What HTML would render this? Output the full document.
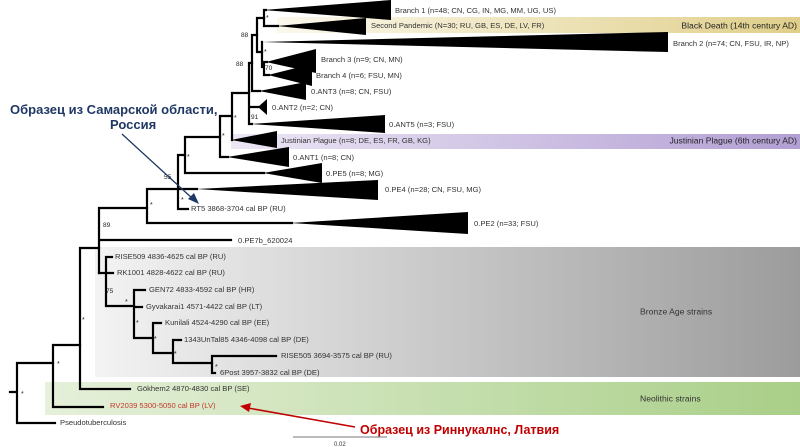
<!DOCTYPE html>
<html><head><meta charset="utf-8"><style>
html,body{margin:0;padding:0;background:#fff;}
svg{display:block;font-family:"Liberation Sans",sans-serif;}
.t{font-size:7.6px;fill:#333;dominant-baseline:middle;}
.s{font-size:6px;fill:#333;}
</style></head><body>
<svg width="800" height="447" viewBox="0 0 800 447" xmlns="http://www.w3.org/2000/svg">
<defs>
<linearGradient id="gBD" x1="0" x2="1"><stop offset="0" stop-color="#fbf8ec"/><stop offset="1" stop-color="#e0cf8a"/></linearGradient>
<linearGradient id="gJ" x1="0" x2="1"><stop offset="0" stop-color="#ece6f5"/><stop offset="1" stop-color="#b29fd3"/></linearGradient>
<linearGradient id="gB" x1="0" x2="1"><stop offset="0" stop-color="#f3f3f3"/><stop offset="1" stop-color="#9c9c9c"/></linearGradient>
<linearGradient id="gN" x1="0" x2="1"><stop offset="0" stop-color="#e6f0da"/><stop offset="1" stop-color="#a9cf88"/></linearGradient>
</defs>
<rect x="277" y="17" width="523" height="16" fill="url(#gBD)"/>
<rect x="231" y="134" width="569" height="15" fill="url(#gJ)"/>
<rect x="95" y="247" width="705" height="130" fill="url(#gB)"/>
<rect x="45" y="382" width="755" height="33" fill="url(#gN)"/>

<g fill="#000">
<polygon points="263,10 391,0 391,20"/>
<polygon points="277,26 366,18 366,35"/>
<polygon points="261,42 668,32 668,52"/>
<polygon points="266,62 316,49 316,73"/>
<polygon points="268,75 312,64 312,86"/>
<polygon points="259,91 306,82 306,100"/>
<polygon points="258,107 267,99 267,115"/>
<polygon points="251,124 385,115 385,133"/>
<polygon points="231,140 277,131 277,148"/>
<polygon points="227,157 289,147 289,167"/>
<polygon points="263,173 322,163 322,183"/>
<polygon points="196,189 378,180 378,200"/>
<polygon points="290,223 468,212 468,234"/>
</g>

<g stroke="#000" stroke-width="2.2" fill="none" stroke-linecap="square">
<path d="M264,10V26M264,10H266M264,26H278"/>
<path d="M262,42V67M262,67H264M264,62V75M264,62H267M264,75H269"/>
<path d="M257,18V52M257,18H264M257,52H262"/>
<path d="M252,35V91M252,35H257M252,91H260"/>
<path d="M249,63V124M249,63H252M249,107H258M249,124H252"/>
<path d="M232,93V140M232,93H249"/>
<path d="M220,116V157M220,116H232M220,157H228"/>
<path d="M185,137V173M185,137H220M185,173H264"/>
<path d="M178,155V209M178,155H185M178,209H188"/>
<path d="M147,189V223M147,189H197M147,223H292"/>
<path d="M99,208V273M99,208H147M99,240H231"/>
<path d="M80,248V389M80,248H99M80,389H130"/>
<path d="M53,345V407M53,345H80M53,407H103"/>
<path d="M17,363V423M17,363H53M17,423H55M10,392H17"/>
<path d="M99,273H106M106,257V306M106,257H112M106,273H113M106,306H134"/>
<path d="M134,290V338M134,290H145M134,307H142M134,338H153"/>
<path d="M153,323V353M153,323H161M153,353H173"/>
<path d="M173,340V363M173,340H181M173,363H212"/>
<path d="M212,356V373M212,356H276M212,373H215"/>
</g>

<g font-size="7" fill="#222">
<text x="266" y="20">*</text><text x="264" y="54">*</text><text x="265" y="70" font-size="6.5">70</text>
<text x="241" y="37" font-size="6.5">88</text><text x="236" y="66" font-size="6.5">88</text>
<text x="251" y="119" font-size="6.5">91</text><text x="234" y="120">*</text><text x="222" y="138">*</text>
<text x="187" y="159">*</text><text x="164" y="179" font-size="6.5">55</text><text x="181" y="202">*</text>
<text x="150" y="207">*</text><text x="103" y="227" font-size="6.5">89</text><text x="106" y="293" font-size="6.5">75</text>
<text x="125" y="304">*</text><text x="136" y="325">*</text><text x="154" y="341">*</text><text x="174" y="356">*</text><text x="215" y="369">*</text>
<text x="82" y="322">*</text><text x="57" y="366">*</text><text x="21" y="396">*</text>
</g>

<g class="t">
<text x="395" y="11">Branch 1 (n=48; CN, CG, IN, MG, MM, UG, US)</text>
<text x="371" y="26">Second Pandemic (N=30; RU, GB, ES, DE, LV, FR)</text>
<text x="673" y="44">Branch 2 (n=74; CN, FSU, IR, NP)</text>
<text x="321" y="60">Branch 3 (n=9; CN, MN)</text>
<text x="316" y="76">Branch 4 (n=6; FSU, MN)</text>
<text x="311" y="92">0.ANT3 (n=8; CN, FSU)</text>
<text x="272" y="108">0.ANT2 (n=2; CN)</text>
<text x="389" y="125">0.ANT5 (n=3; FSU)</text>
<text x="281" y="141">Justinian Plague (n=8; DE, ES, FR, GB, KG)</text>
<text x="293" y="158">0.ANT1 (n=8; CN)</text>
<text x="326" y="174">0.PE5 (n=8; MG)</text>
<text x="385" y="190">0.PE4 (n=28; CN, FSU, MG)</text>
<text x="191" y="209">RT5 3868-3704 cal BP (RU)</text>
<text x="474" y="224">0.PE2 (n=33; FSU)</text>
<text x="238" y="241">0.PE7b_620024</text>
<text x="115" y="257">RISE509 4836-4625 cal BP (RU)</text>
<text x="117" y="273">RK1001 4828-4622 cal BP (RU)</text>
<text x="149" y="290">GEN72 4833-4592 cal BP (HR)</text>
<text x="146" y="307">Gyvakarai1 4571-4422 cal BP (LT)</text>
<text x="165" y="323">Kunilali 4524-4290 cal BP (EE)</text>
<text x="184" y="340">1343UnTal85 4346-4098 cal BP (DE)</text>
<text x="281" y="356">RISE505 3694-3575 cal BP (RU)</text>
<text x="220" y="373">6Post 3957-3832 cal BP (DE)</text>
<text x="137" y="389">Gökhem2 4870-4830 cal BP (SE)</text>
<text x="110" y="406" style="fill:#c0392b">RV2039 5300-5050 cal BP (LV)</text>
<text x="60" y="423">Pseudotuberculosis</text>
</g>
<g font-size="8.6" fill="#222" dominant-baseline="middle" text-anchor="end">
<text x="797" y="26">Black Death (14th century AD)</text>
<text x="797" y="141">Justinian Plague (6th century AD)</text>
</g>
<g font-size="8.6" fill="#333" dominant-baseline="middle">
<text x="640" y="312">Bronze Age strains</text>
<text x="640" y="399">Neolithic strains</text>
</g>

<line x1="293" y1="437" x2="387" y2="437" stroke="#777" stroke-width="1"/>
<text x="334" y="446" class="s">0.02</text>

<text x="10" y="114" font-size="13" font-weight="bold" fill="#1f3864">Образец из Самарской области,</text>
<text x="110" y="129" font-size="13" font-weight="bold" fill="#1f3864">Россия</text>
<line x1="122" y1="134" x2="193" y2="199" stroke="#1f3864" stroke-width="1.3"/>
<polygon points="199,204 188,199 194,193" fill="#1f3864"/>

<text x="360" y="434" font-size="12.5" font-weight="bold" fill="#c00000">Образец из Риннукалнс, Латвия</text>
<line x1="355" y1="427" x2="248" y2="408" stroke="#c00000" stroke-width="1.5"/>
<polygon points="240,406 251,403 249,412" fill="#c00000"/>
</svg>
</body></html>
